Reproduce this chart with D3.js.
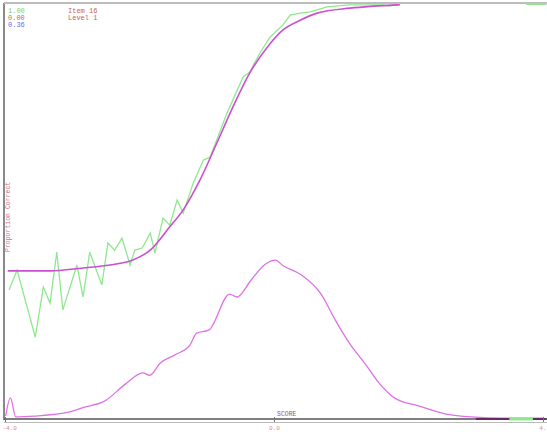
<!DOCTYPE html>
<meta charset="utf-8">
<style>
  body, html { margin:0; padding:0; background:#fff; }
  svg { display:block; }
  text { font-family: "Liberation Mono", "DejaVu Sans Mono", monospace; }
</style>
<body>
<svg width="547" height="432"></svg>
<script src="https://d3js.org/d3.v7.min.js"></script>
<script>

// model curve (theta, P)
var iccTheta = [-3.96,-3.33,-2.84,-2.44,-2.10,-1.84,-1.55,-1.35,-1.10,-0.85,-0.61,-0.36,-0.10,0.13,0.39,0.64,1.13,1.87];
var iccP     = [0.357,0.357,0.364,0.371,0.383,0.407,0.463,0.504,0.576,0.665,0.752,0.834,0.896,0.937,0.961,0.978,0.990,0.998];

// empirical proportions
var empTheta = [-3.94,-3.82,-3.55,-3.43,-3.33,-3.23,-3.14,-2.93,-2.84,-2.74,-2.56,-2.47,-2.37,-2.26,-2.14,-2.07,-1.96,-1.84,-1.77,-1.65,-1.55,-1.44,-1.35,-1.20,-1.05,-0.95,-0.70,-0.46,-0.36,-0.21,-0.06,0.13,0.24,0.39,0.54,0.79,1.13,1.62,1.72,1.87];
var empP     = [0.311,0.359,0.197,0.318,0.279,0.402,0.263,0.371,0.294,0.402,0.323,0.424,0.407,0.436,0.371,0.407,0.412,0.448,0.400,0.484,0.467,0.528,0.496,0.569,0.624,0.631,0.737,0.824,0.836,0.882,0.920,0.949,0.973,0.978,0.981,0.993,0.998,0.998,0.995,1.000];

// sample distribution
var denTheta = [-3.99,-3.92,-3.84,-3.56,-3.04,-2.83,-2.52,-2.21,-1.95,-1.85,-1.69,-1.48,-1.25,-1.15,-0.97,-0.66,-0.55,-0.34,-0.13,0.02,0.13,0.39,0.70,0.91,1.12,1.37,1.56,1.79,2.16,2.56,2.93,3.45,4.00];
var denV     = [0.007,0.051,0.005,0.007,0.017,0.028,0.043,0.084,0.111,0.105,0.135,0.154,0.178,0.207,0.214,0.301,0.294,0.335,0.373,0.383,0.370,0.349,0.301,0.239,0.183,0.130,0.087,0.051,0.031,0.012,0.005,0.002,0.002];

var xTicks = [-4, 0, 4];
var xTickLabels = ["-4.0", "0.0", "4."];
var legendVals = ["1.00", "0.00", "0.36"];
var legendCols = ["#7ccc7c", "#e05a5a", "#6a6aee"];
var titleLines = ["Item 16", "Level 1"];

var svg = d3.select("svg");
var x = d3.scaleLinear().domain([-4, 4]).range([5, 543]);
var y = d3.scaleLinear().domain([0, 1]).range([419, 4]);

// frame
svg.append("line").attr("x1", 4).attr("x2", 4).attr("y1", 3).attr("y2", 420)
  .attr("stroke", "#8a8a8a").attr("stroke-width", 2);
svg.append("line").attr("x1", 4).attr("x2", 547).attr("y1", 3).attr("y2", 3)
  .attr("stroke", "#bdbdbd").attr("stroke-width", 2);

var line = d3.line().x(function(d) { return x(d[0]); }).y(function(d) { return y(d[1]); });

svg.append("path")
  .datum(denTheta.map(function(t, i) { return [t, denV[i]]; }))
  .attr("d", line.curve(d3.curveMonotoneX)).attr("fill", "none").attr("stroke", "#e070e6").attr("stroke-width", 1.3);

svg.append("path")
  .datum(empTheta.map(function(t, i) { return [t, empP[i]]; }))
  .attr("d", line.curve(d3.curveLinear)).attr("fill", "none").attr("stroke", "#8fe88f").attr("stroke-width", 1.3);

svg.append("path")
  .datum(iccTheta.map(function(t, i) { return [t, iccP[i]]; }))
  .attr("d", line.curve(d3.curveMonotoneX)).attr("fill", "none").attr("stroke", "#cc4fcf").attr("stroke-width", 1.6);

// empirical tail at top right
svg.append("line").attr("x1", x(3.75)).attr("x2", x(4.05)).attr("y1", y(1)).attr("y2", y(1))
  .attr("stroke", "#8fe88f").attr("stroke-width", 2);

// bottom axis
svg.append("line").attr("x1", 4).attr("x2", 547).attr("y1", 419).attr("y2", 419)
  .attr("stroke", "#555").attr("stroke-width", 1.5);
svg.append("line").attr("x1", x(3.0)).attr("x2", x(4.05)).attr("y1", 419).attr("y2", 419)
  .attr("stroke", "#6a2a6a").attr("stroke-width", 2);
svg.append("line").attr("x1", x(3.5)).attr("x2", x(3.85)).attr("y1", 419).attr("y2", 419)
  .attr("stroke", "#8fe88f").attr("stroke-width", 3);

var xAxis = d3.axisBottom(x).tickValues(xTicks).tickSize(3).tickPadding(1)
  .tickFormat(function(d, i) { return xTickLabels[i]; });
var ax = svg.append("g").attr("transform", "translate(0,422)").call(xAxis);
ax.select(".domain").attr("stroke", "#bbb").attr("d", "M4,0.5H547");
ax.selectAll(".tick line").attr("stroke", "#777").attr("y1", -5).attr("y2", 0);
ax.selectAll(".tick text").attr("fill", "#d88").style("font-size", "6px")
  .style("font-family", "Liberation Mono, monospace")
  .attr("text-anchor", function(d, i) { return i === 0 ? "start" : (i === 2 ? "end" : "middle"); })
  .attr("dx", function(d, i) { return i === 0 ? -3 : (i === 2 ? 3 : 0); });

svg.append("text").attr("x", x(0) + 3).attr("y", 416)
  .attr("fill", "#b05050").style("font-size", "6.5px").text("SCORE");

// legend and title
svg.selectAll(".leg").data(legendVals).enter().append("text")
  .attr("x", 8).attr("y", function(d, i) { return 13 + i * 7; })
  .attr("fill", function(d, i) { return legendCols[i]; })
  .style("font-size", "7px").text(function(d) { return d; });
svg.selectAll(".ttl").data(titleLines).enter().append("text")
  .attr("x", 68).attr("y", function(d, i) { return 13 + i * 7; })
  .attr("fill", "#c86060").style("font-size", "7px").text(function(d) { return d; });

svg.append("text").attr("transform", "translate(10,252) rotate(-90)")
  .attr("fill", "#d07080").style("font-size", "6.5px").text("Proportion Correct");

</script>
</body>
